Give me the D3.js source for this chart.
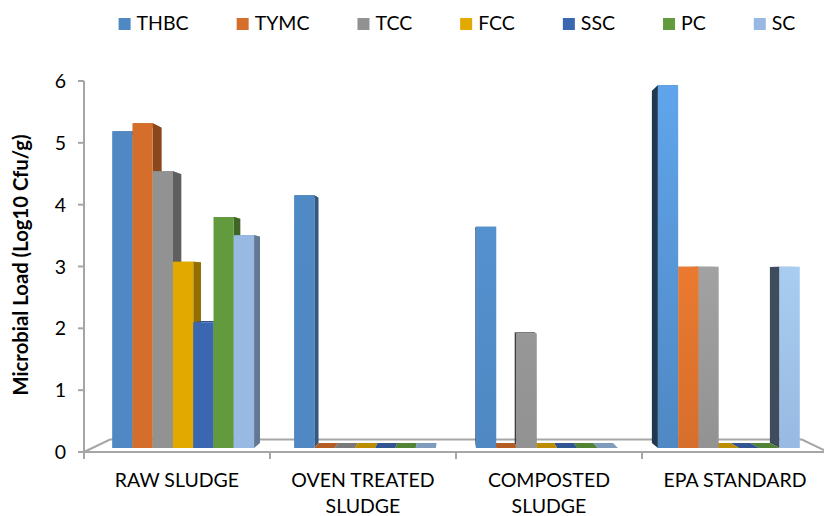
<!DOCTYPE html>
<html>
<head>
<meta charset="utf-8">
<script src="https://cdn.jsdelivr.net/npm/d3@7/dist/d3.min.js"></script>
<style>
  html, body { margin: 0; padding: 0; background: #fff; }
  svg { display: block; font-family: Lato, "Open Sans", sans-serif; }
</style>
</head>
<body>
<svg id="chart" width="824" height="516"></svg>
<script>
// ---------- data ----------
const categories = ["RAW SLUDGE", "OVEN TREATED SLUDGE", "COMPOSTED SLUDGE", "EPA STANDARD"];
const categoryLines = [["RAW SLUDGE"], ["OVEN TREATED", "SLUDGE"], ["COMPOSTED", "SLUDGE"], ["EPA STANDARD"]];
const series = ["THBC", "TYMC", "TCC", "FCC", "SSC", "PC", "SC"];
const THBC = [5.24, 4.18, 3.66, 6.0];
const TYMC = [5.37, 0, 0, 3.0];
const TCC  = [4.58, 0, 1.89, 3.0];
const FCC  = [3.08, 0, 0, 0];
const SSC  = [2.08, 0, 0, 0];
const PC   = [3.82, 0, 0, 0];
const SC   = [3.52, 0, 0, 3.0];
const seriesValues = [THBC, TYMC, TCC, FCC, SSC, PC, SC];
const yTicks = [0, 1, 2, 3, 4, 5, 6];
const colors = ["#4f88c2", "#d66e2b", "#929292", "#e2a900", "#3b66b0", "#629b3e", "#98b9e2"];
const yTitle = "Microbial Load (Log10 Cfu/g)";

// ---------- layout ----------
const svg = d3.select("#chart");
const x0 = d3.scaleBand().domain(categories).range([84, 828]).paddingInner(0.22).paddingOuter(0.11);
const x1 = d3.scaleBand().domain(series).range([0, x0.bandwidth()]);
const y = d3.scaleLinear().domain([0, 6]).range([452, 81]);

// simple perspective: vanishing point and depths
const VX = 455, VY = 275;
const TF = 0.022, TB = 0.051, TFLOOR = 0.07;
const P = (x, yy, t) => [x + t * (VX - x), yy + t * (VY - yy)];
const pts = arr => arr.map(p => p.join(",")).join(" ");
const axisColor = "#a6a6a6";

// gradients
const defs = svg.append("defs");
const glow = [0, 0.05, 0.3, 0.55];
categories.forEach((c, ci) => {
  series.forEach((s, si) => {
    const base = d3.color(colors[si]);
    const g = defs.append("linearGradient")
      .attr("id", `g${ci}_${si}`)
      .attr("gradientUnits", "userSpaceOnUse")
      .attr("x1", 0).attr("x2", 0).attr("y1", y(6)).attr("y2", y(0));
    g.append("stop").attr("offset", "0%").attr("stop-color", base.brighter(glow[ci]).formatHex());
    g.append("stop").attr("offset", "100%").attr("stop-color", base.formatHex());
  });
});

// ---------- floor ----------
const fx0 = x0.range()[0], fx1 = x0.range()[1];
svg.append("polygon")
  .attr("points", pts([P(fx0, y(0), 0), P(fx1, y(0), 0), P(fx1, y(0), TFLOOR), P(fx0, y(0), TFLOOR)]))
  .attr("fill", "#fff").attr("stroke", axisColor).attr("stroke-width", 2);

// ---------- y axis ----------
const yAxis = svg.append("g");
yAxis.append("line").attr("x1", 84).attr("x2", 84).attr("y1", y(6)).attr("y2", y(0))
  .attr("stroke", axisColor).attr("stroke-width", 2);
yAxis.selectAll("line.tick").data(yTicks).join("line").attr("class", "tick")
  .attr("x1", 78).attr("x2", 84).attr("y1", d => y(d)).attr("y2", d => y(d))
  .attr("stroke", axisColor).attr("stroke-width", 2);
yAxis.selectAll("text").data(yTicks).join("text")
  .attr("x", 66).attr("y", d => y(d)).attr("dy", "0.36em")
  .attr("text-anchor", "end").attr("font-size", 19.5).attr("fill", "#000")
  .text(d => d);

// category ticks
const bounds = categories.map(c => x0(c) - x0.step() * x0.paddingInner() / 2).concat([fx1]);
svg.selectAll("line.ctick").data(bounds).join("line").attr("class", "ctick")
  .attr("x1", d => d).attr("x2", d => d).attr("y1", y(0)).attr("y2", y(0) + 7)
  .attr("stroke", axisColor).attr("stroke-width", 2);

// ---------- bars ----------
const bars = [];
categories.forEach((c, ci) => {
  series.forEach((s, si) => {
    bars.push({ c, ci, s, si, v: seriesValues[si][ci] });
  });
});
bars.forEach(b => {
  b.xl = x0(b.c) + x1(b.s);
  b.xr = b.xl + x1.bandwidth();
  b.cx = P((b.xl + b.xr) / 2, y(0), TF)[0];
});
bars.sort((a, b) => Math.abs(b.cx - VX) - Math.abs(a.cx - VX));

const barG = svg.append("g");
bars.forEach(b => {
  const base = d3.color(colors[b.si]);
  const yt = y(b.v), yb = y(0);
  const g = barG.append("g");
  // top face
  g.append("polygon")
    .attr("points", pts([P(b.xl, yt, TF), P(b.xr, yt, TF), P(b.xr, yt, TB), P(b.xl, yt, TB)]))
    .attr("fill", base.darker(0.5).formatHex());
  if (b.v > 0) {
    const rightSide = b.cx < VX;
    const xe = rightSide ? b.xr : b.xl;
    g.append("polygon")
      .attr("points", pts([P(xe, yt, TF), P(xe, yt, TB), P(xe, yb, TB), P(xe, yb, TF)]))
      .attr("fill", base.darker(rightSide ? 1.2 : 2.5).formatHex());
    g.append("polygon")
      .attr("points", pts([P(b.xl, yt, TF), P(b.xr, yt, TF), P(b.xr, yb, TF), P(b.xl, yb, TF)]))
      .attr("fill", `url(#g${b.ci}_${b.si})`);
  }
});

// ---------- category labels ----------
categories.forEach((c, ci) => {
  const cx = x0(c) + x0.bandwidth() / 2;
  const t = svg.append("text").attr("text-anchor", "middle").attr("font-size", 19.5).attr("fill", "#000");
  categoryLines[ci].forEach((line, li) => {
    t.append("tspan").attr("x", cx).attr("y", 487 + li * 26).text(line);
  });
});

// ---------- y title ----------
svg.append("text")
  .attr("transform", "translate(20,265) rotate(-90)")
  .attr("text-anchor", "middle").attr("dominant-baseline", "central")
  .attr("font-size", 20.3).attr("font-weight", "bold").attr("fill", "#000")
  .text(yTitle);

// ---------- legend ----------
const legend = svg.append("g");
const items = series.map((s, i) => {
  const g = legend.append("g");
  g.append("rect").attr("x", 0).attr("y", 18).attr("width", 12).attr("height", 12).attr("fill", colors[i]);
  const t = g.append("text").attr("x", 18).attr("y", 30).attr("font-size", 19.5).attr("fill", "#000").text(s);
  return { g, w: 18 + t.node().getComputedTextLength() };
});
const gap = 48;
const total = d3.sum(items, d => d.w) + gap * (items.length - 1);
let lx = 457 - total / 2;
items.forEach(it => { it.g.attr("transform", `translate(${lx},0)`); lx += it.w + gap; });
</script>
</body>
</html>
